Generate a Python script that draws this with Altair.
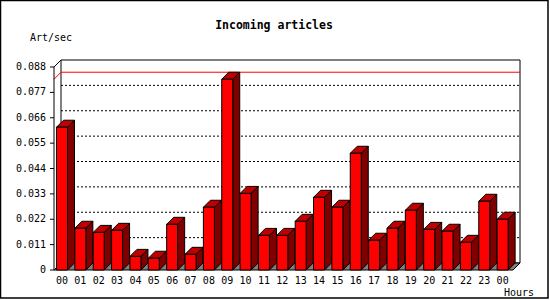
import altair as alt
import pandas as pd

# ---------------- data ----------------
hours = ["00", "01", "02", "03", "04", "05", "06", "07", "08", "09", "10", "11",
         "12", "13", "14", "15", "16", "17", "18", "19", "20", "21", "22", "23", "00"]
articles = [0.0619, 0.0181, 0.0163, 0.0172, 0.0059, 0.0051, 0.0198, 0.0068,
            0.0272, 0.0827, 0.0332, 0.0150, 0.0150, 0.0211, 0.0315, 0.0272,
            0.0506, 0.0129, 0.0181, 0.0259, 0.0176, 0.0168, 0.0120, 0.0298, 0.0220]
y_ticks = [0.0, 0.011, 0.022, 0.033, 0.044, 0.055, 0.066, 0.077, 0.088]
y_labels = ["0", "0.011", "0.022", "0.033", "0.044", "0.055", "0.066", "0.077", "0.088"]
grid_values = [0.011, 0.022, 0.033, 0.044, 0.055, 0.066, 0.077]

TITLE = "Incoming articles"
Y_TITLE = "Art/sec"
X_TITLE = "Hours"

# ---------------- geometry / style ----------------
W, H = 459, 203
YMAX = 0.088
N = len(hours)
BAND = W / N
DEPTH = 7.0
dx = DEPTH / BAND
dy = DEPTH * YMAX / H
gap = 2.5 / BAND
fw = 11.0 / BAND

FRONT = "#FF0000"
SIDE = "#800000"
TOP = "#C00000"
FLOOR = "#808080"
FONT = "DejaVu Sans Mono"

xs = alt.Scale(domain=[0, N], nice=False, zero=False)
ys = alt.Scale(domain=[0, YMAX], nice=False, zero=False)

# ---------------- tables ----------------
front = pd.DataFrame({
    "i": list(range(N)),
    "hour": hours,
    "v": articles,
})
front["x0"] = front["i"] + gap
front["x1"] = front["i"] + gap + fw
front["xc"] = front["i"] + gap + fw / 2

side_rows, top_rows = [], []
for i, v in enumerate(articles):
    x0 = i + gap
    x1 = i + gap + fw
    side_rows.append({"bar": i, "x": x1, "y": v, "y2": 0.0})
    side_rows.append({"bar": i, "x": x1 + dx, "y": v + dy, "y2": dy})
    top_rows.append({"bar": i, "y": v, "x": x0, "x2": x1})
    top_rows.append({"bar": i, "y": v + dy, "x": x0 + dx, "x2": x1 + dx})
side = pd.DataFrame(side_rows)
topf = pd.DataFrame(top_rows)

floor = pd.DataFrame({"y": [0.0, dy], "x": [0.0, dx], "x2": [float(N), N + dx]})
back = pd.DataFrame({"x": [dx], "x2": [N + dx], "y": [dy], "y2": [YMAX + dy]})
grid = pd.DataFrame({"y": [g + dy for g in grid_values]})
grid["x"] = dx
grid["x2"] = N + dx
vmax = max(articles)
maxline = pd.DataFrame({"y": [vmax + dy], "x": [dx], "x2": [N + dx]})
maxdiag = pd.DataFrame({"x": [0.0, dx], "y": [vmax, vmax + dy]})
topdiag = pd.DataFrame({"x": [0.0, dx], "y": [YMAX, YMAX + dy]})
yax = pd.DataFrame({"t": y_ticks, "lab": y_labels, "x0": [0.0] * len(y_ticks)})
yline = pd.DataFrame({"x": [0.0], "y": [0.0], "y2": [YMAX]})
xticks = pd.DataFrame({"x": [float(k) for k in range(N + 1)]})

# ---------------- layers ----------------
xaxis_l = alt.Chart(xticks).mark_point(opacity=0).encode(
    x=alt.X("x:Q", scale=xs, axis=alt.Axis(
        orient="bottom", values=list(range(N + 1)), labels=False, title=None,
        grid=False, tickSize=4, domainColor="black", tickColor="black", zindex=1)),
)

frame = alt.Chart(pd.DataFrame({"a": [0]})).mark_rect(
    fill="transparent", stroke="black", strokeWidth=1.5
).encode(x=alt.value(-53.5), x2=alt.value(494), y=alt.value(-66.5), y2=alt.value(231))

back_l = alt.Chart(back).mark_rect(fill="transparent", stroke="black", strokeWidth=1).encode(
    x=alt.X("x:Q", scale=xs, axis=None), x2="x2:Q",
    y=alt.Y("y:Q", scale=ys, axis=None), y2="y2:Q")

grid_l = alt.Chart(grid).mark_rule(color="black", strokeWidth=1, strokeDash=[2, 2]).encode(
    x=alt.X("x:Q", scale=xs, axis=None), x2="x2:Q",
    y=alt.Y("y:Q", scale=ys, axis=None))

max_l = alt.Chart(maxline).mark_rule(color="#FF0000", strokeWidth=1).encode(
    x=alt.X("x:Q", scale=xs, axis=None), x2="x2:Q",
    y=alt.Y("y:Q", scale=ys, axis=None))

maxdiag_l = alt.Chart(maxdiag).mark_line(color="#FF0000", strokeWidth=1).encode(
    x=alt.X("x:Q", scale=xs, axis=None), y=alt.Y("y:Q", scale=ys, axis=None))

topdiag_l = alt.Chart(topdiag).mark_line(color="black", strokeWidth=1).encode(
    x=alt.X("x:Q", scale=xs, axis=None), y=alt.Y("y:Q", scale=ys, axis=None))

floor_l = alt.Chart(floor).mark_area(orient="horizontal", fill=FLOOR, stroke="black",
                                       strokeWidth=1).encode(
    y=alt.Y("y:Q", scale=ys, axis=None, stack=None),
    x=alt.X("x:Q", scale=xs, axis=None, stack=None), x2="x2:Q")

side_l = alt.Chart(side).mark_area(orient="vertical", fill=SIDE, stroke="black",
                                     strokeWidth=1).encode(
    x=alt.X("x:Q", scale=xs, axis=None, stack=None),
    y=alt.Y("y:Q", scale=ys, axis=None, stack=None), y2="y2:Q",
    detail="bar:N")

top_l = alt.Chart(topf).mark_area(orient="horizontal", fill=TOP, stroke="black",
                                    strokeWidth=1).encode(
    y=alt.Y("y:Q", scale=ys, axis=None, stack=None),
    x=alt.X("x:Q", scale=xs, axis=None, stack=None), x2="x2:Q",
    detail="bar:N")

front_l = alt.Chart(front).mark_rect(fill=FRONT, stroke="black", strokeWidth=1).encode(
    x=alt.X("x0:Q", scale=xs, axis=None), x2="x1:Q",
    y=alt.Y("v:Q", scale=ys, axis=None), y2=alt.datum(0),
)

# front value axis: line, ticks and labels drawn through the scales
yline_l = alt.Chart(yline).mark_rule(color="black", strokeWidth=1).encode(
    x=alt.X("x:Q", scale=xs, axis=None),
    y=alt.Y("y:Q", scale=ys, axis=None), y2="y2:Q")

ytick_l = alt.Chart(yax).mark_rule(color="black", strokeWidth=1, xOffset=-4, x2Offset=0).encode(
    x=alt.X("x0:Q", scale=xs, axis=None), x2="x0:Q",
    y=alt.Y("t:Q", scale=ys, axis=None))

ylab_l = alt.Chart(yax).mark_text(font=FONT, fontSize=10, color="black", align="right",
                                    baseline="middle", dx=-8).encode(
    x=alt.X("x0:Q", scale=xs, axis=None),
    y=alt.Y("t:Q", scale=ys, axis=None), text="lab:N")

xlab_l = alt.Chart(front).mark_text(font=FONT, fontSize=10, color="black",
                                      baseline="alphabetic", align="center").encode(
    x=alt.X("xc:Q", scale=xs, axis=None), y=alt.value(216.5), text="hour:N")

title_l = alt.Chart(pd.DataFrame({"t": [TITLE]})).mark_text(
    font=FONT, fontSize=11.5, fontWeight="bold", color="black",
    baseline="alphabetic", align="center").encode(
    x=alt.value(220), y=alt.value(-38), text="t:N")

ytitle_l = alt.Chart(pd.DataFrame({"t": [Y_TITLE]})).mark_text(
    font=FONT, fontSize=10, color="black", baseline="alphabetic", align="left").encode(
    x=alt.value(-24), y=alt.value(-26.5), text="t:N")

xtitle_l = alt.Chart(pd.DataFrame({"t": [X_TITLE]})).mark_text(
    font=FONT, fontSize=10, color="black", baseline="alphabetic", align="right").encode(
    x=alt.value(480), y=alt.value(228.5), text="t:N")

chart = alt.layer(
    xaxis_l, frame, back_l, grid_l, max_l, maxdiag_l, topdiag_l, floor_l,
    side_l, top_l, front_l, yline_l, ytick_l, ylab_l, xlab_l, title_l, ytitle_l, xtitle_l
).properties(
    width=W, height=H,
    autosize=alt.AutoSizeParams(type="none"),
    padding={"left": 54, "top": 67, "right": 37, "bottom": 30},
    background="white",
).configure_view(strokeWidth=0)

chart.save("out.html", embed_options={"renderer": "svg", "actions": False})
